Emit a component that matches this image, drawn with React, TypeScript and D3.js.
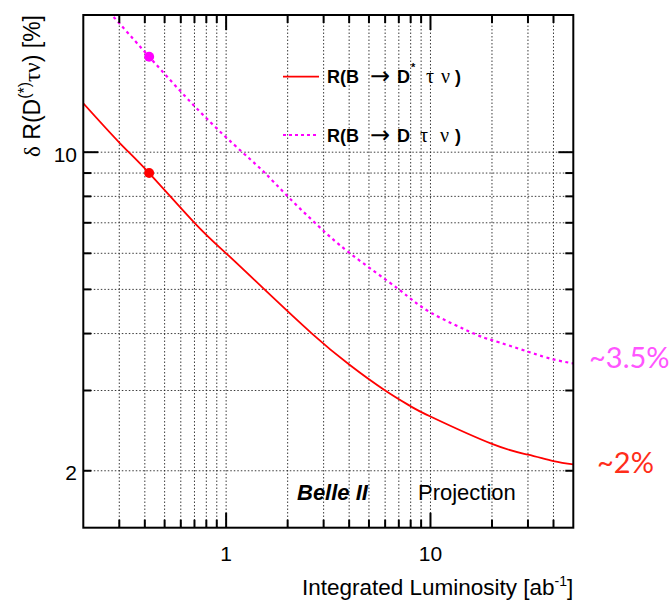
import React from "react";
import * as d3 from "d3";

// ---- data ----
const redLumi = [0.2, 0.3, 0.42, 0.7, 1, 1.54, 2.63, 4, 6, 8, 10, 20, 30, 40, 50];
const redVals = [12.8, 10.5, 9.0, 7.0, 6.0, 5.0, 4.0, 3.42, 3.0, 2.77, 2.63, 2.29, 2.17, 2.1, 2.065];
const magLumi = [0.2, 0.276, 0.42, 0.74, 1.2, 1.55, 2.0, 2.72, 4.04, 7.0, 10, 16.3, 20, 30, 40, 50];
const magVals = [23.5, 20, 16.2, 12.3, 10, 9, 8, 7, 6, 5, 4.45, 4.0, 3.87, 3.65, 3.51, 3.44];
const dotLumi = [0.42];
const redDotVals = [9.0];
const magDotVals = [16.2];
const xMajor = [1, 10];
const xMinor = [0.3, 0.4, 0.5, 0.6, 0.7, 0.8, 0.9, 2, 3, 4, 5, 6, 7, 8, 9, 20, 30, 40];
const xGrid = [0.3, 0.4, 0.5, 0.6, 0.7, 0.8, 0.9, 1, 2, 3, 4, 5, 6, 7, 8, 9, 10, 20, 30, 40];
const yMajor = [10];
const yMinor = [2, 3, 4, 5, 6, 7, 8, 9];
const yGrid = [2, 3, 4, 5, 6, 7, 8, 9, 10];
const xLabels = ["1", "10"];
const yLabelVals = [10, 2];
const yLabels = ["10", "2"];

const W = 671, H = 600;
const L = 83.3, R = 573.3, T = 15, B = 527.7;

export default function App() {
  const x = d3.scaleLog().domain([0.2, 50]).range([L, R]);
  const y = d3.scaleLog().domain([1.5, 20]).range([B, T]);
  const line = d3
    .line<[number, number]>()
    .x((d) => x(d[0]))
    .y((d) => y(d[1]))
    .curve(d3.curveNatural);
  const redPath = line(redLumi.map((v, i) => [v, redVals[i]]));
  const magPath = line(magLumi.map((v, i) => [v, magVals[i]]));
  const sans = "'Liberation Sans', Arial, Helvetica, sans-serif";
  const serif = "'Liberation Serif', 'Times New Roman', serif";
  const axisW = 2;
  const minorLen = 8, majorLen = 15;

  return (
    <svg
      width={W}
      height={H}
      style={{ position: "absolute", left: 0, top: 0, background: "#fff" }}
      fontFamily={sans}
    >
      <defs>
        <clipPath id="plot">
          <rect x={L} y={T} width={R - L} height={B - T} />
        </clipPath>
      </defs>
      {/* grid */}
      <g stroke="#000" strokeWidth={0.9} strokeDasharray="1.5 2" opacity={0.85}>
        {xGrid.map((v) => (
          <line key={"gx" + v} x1={x(v)} x2={x(v)} y1={T} y2={B} />
        ))}
        {yGrid.map((v) => (
          <line key={"gy" + v} x1={L} x2={R} y1={y(v)} y2={y(v)} />
        ))}
      </g>
      {/* curves */}
      <g clipPath="url(#plot)" fill="none">
        <path d={magPath || ""} stroke="#ff00ff" strokeWidth={2.2} strokeDasharray="3 3.5" />
        <path d={redPath || ""} stroke="#ff0000" strokeWidth={1.8} />
      </g>
      {dotLumi.map((v, i) => (
        <g key={"dot" + i}>
          <circle cx={x(v)} cy={y(redDotVals[i])} r={5} fill="#ff0000" />
          <circle cx={x(v)} cy={y(magDotVals[i])} r={5} fill="#ff00ff" />
        </g>
      ))}
      {/* frame */}
      <rect x={L} y={T} width={R - L} height={B - T} fill="none" stroke="#000" strokeWidth={axisW} />
      {/* ticks */}
      <g stroke="#000" strokeWidth={2}>
        {xMinor.map((v) => (
          <g key={"tx" + v}>
            <line x1={x(v)} x2={x(v)} y1={B} y2={B - minorLen} />
            <line x1={x(v)} x2={x(v)} y1={T} y2={T + minorLen} />
          </g>
        ))}
        {xMajor.map((v) => (
          <g key={"tX" + v}>
            <line x1={x(v)} x2={x(v)} y1={B} y2={B - majorLen} />
            <line x1={x(v)} x2={x(v)} y1={T} y2={T + majorLen} />
          </g>
        ))}
        {yMinor.map((v) => (
          <g key={"ty" + v}>
            <line x1={L} x2={L + minorLen} y1={y(v)} y2={y(v)} />
            <line x1={R} x2={R - minorLen} y1={y(v)} y2={y(v)} />
          </g>
        ))}
        {yMajor.map((v) => (
          <g key={"tY" + v}>
            <line x1={L} x2={L + majorLen} y1={y(v)} y2={y(v)} />
            <line x1={R} x2={R - majorLen} y1={y(v)} y2={y(v)} />
          </g>
        ))}
      </g>
      {/* tick labels */}
      <g fontSize={21} fill="#000">
        {xMajor.map((v, i) => (
          <text key={"lx" + v} x={x(v)} y={561} textAnchor="middle">
            {xLabels[i]}
          </text>
        ))}
        {yLabelVals.map((v, i) => (
          <text key={"ly" + v} x={77} y={y(v) + 9.5} textAnchor="end">
            {yLabels[i]}
          </text>
        ))}
      </g>
      {/* axis titles */}
      <text x={R} y={595} textAnchor="end" fontSize={22.5} fill="#000">
        Integrated Luminosity [ab
        <tspan fontSize={14} dy={-9}>-1</tspan>
        <tspan dy={9}>]</tspan>
      </text>
      <text
        transform={`translate(40, ${T}) rotate(-90)`}
        textAnchor="end"
        fontSize={23}
        fill="#000"
      >
        <tspan fontFamily={serif}>δ</tspan> R(D
        <tspan fontSize={16} dy={-10}>(*)</tspan>
        <tspan dy={10} fontFamily={serif}>τν</tspan>) [%]
      </text>
      {/* legend */}
      <line x1={283} x2={319} y1={76.7} y2={76.7} stroke="#ff0000" strokeWidth={1.8} />
      <line x1={283} x2={319} y1={135} y2={135} stroke="#ff00ff" strokeWidth={2} strokeDasharray="3 3" />
      <g fontSize={18} fontWeight="bold" fill="#000">
        <text y={83.3}>
          <tspan x={327}>R(B</tspan>
          <tspan x={370} fontWeight="normal" fontFamily="'DejaVu Sans', sans-serif" fontSize={24} dy={1}>→</tspan>
          <tspan x={397} dy={-1}>D</tspan>
          <tspan x={411} fontSize={11} dy={-12}>*</tspan>
          <tspan x={426} dy={12} fontWeight="normal" fontFamily={serif} fontSize={20}>τ</tspan>
          <tspan x={441} fontWeight="normal" fontFamily={serif} fontSize={20}>ν</tspan>
          <tspan x={455}>)</tspan>
        </text>
        <text y={141.7}>
          <tspan x={327}>R(B</tspan>
          <tspan x={370} fontWeight="normal" fontFamily="'DejaVu Sans', sans-serif" fontSize={24} dy={1}>→</tspan>
          <tspan x={397} dy={-1}>D</tspan>
          <tspan x={420} fontWeight="normal" fontFamily={serif} fontSize={20}>τ</tspan>
          <tspan x={440} fontWeight="normal" fontFamily={serif} fontSize={20}>ν</tspan>
          <tspan x={455}>)</tspan>
        </text>
      </g>
      {/* annotations */}
      <text x={297} y={500} fontSize={22} fontWeight="bold" fontStyle="italic" fill="#000">
        Belle II
      </text>
      <text x={418} y={500} fontSize={22} fill="#000">
        Projection
      </text>
      <text x={589} y={368} fontSize={29} fill="#ff55ff" fontFamily="Lato, 'Open Sans', sans-serif">
        ~3.5%
      </text>
      <text x={597} y={473} fontSize={29} fill="#ff2d1a" fontFamily="Lato, 'Open Sans', sans-serif">
        ~2%
      </text>
    </svg>
  );
}
